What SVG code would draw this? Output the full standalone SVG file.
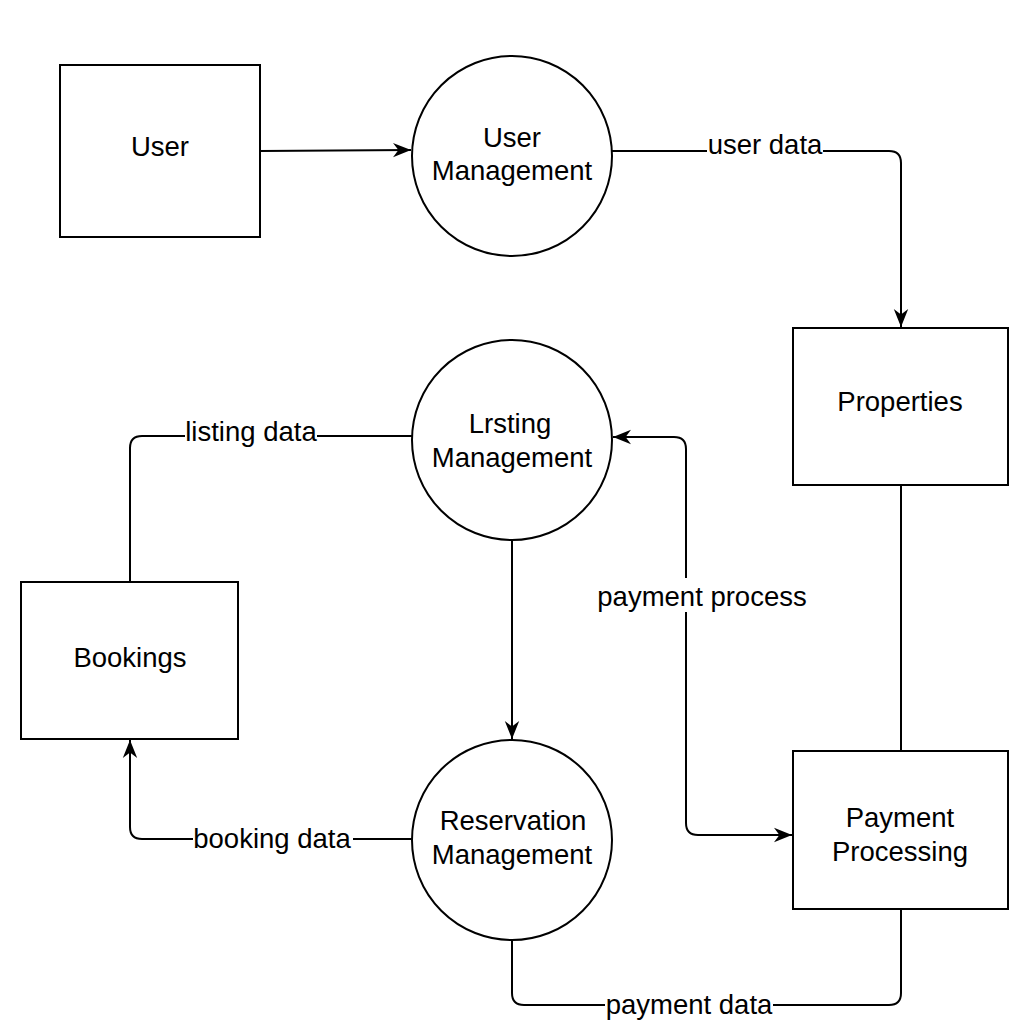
<svg xmlns="http://www.w3.org/2000/svg" width="1024" height="1024" viewBox="0 0 1024 1024">
<defs>
<style>
.n{fill:#fff;stroke:#000;stroke-width:2}
.t{font-family:"Liberation Sans",Arial,sans-serif;font-size:27.5px;fill:#000;text-anchor:middle}
.c{fill:none;stroke:#000;stroke-width:2}
.lb{fill:#fff}
</style>
<marker id="a2" viewBox="0 0 10 10" refX="10" refY="5" markerWidth="18" markerHeight="18" orient="auto-start-reverse" markerUnits="userSpaceOnUse">
<path d="M0,1 L10,5 L0,9 L3,5 z" fill="#000"/>
</marker>
</defs>
<rect width="1024" height="1024" fill="#fff"/>
<g id="connectors">
<path class="c" d="M260,151 L411,150" marker-end="url(#a2)"/>
<path class="c" d="M612,151 L889,151 Q901,151 901,163 L901,327" marker-end="url(#a2)"/>
<path class="c" d="M412,436 L142,436 Q130,436 130,448 L130,582"/>
<path class="c" d="M512,540 L512,739" marker-end="url(#a2)"/>
<path class="c" d="M613,437 L674,437 Q686,437 686,449 L686,823 Q686,835 698,835 L792,835" marker-start="url(#a2)" marker-end="url(#a2)"/>
<path class="c" d="M901,485 L901,751"/>
<path class="c" d="M412,839 L142,839 Q130,839 130,827 L130,740" marker-end="url(#a2)"/>
<path class="c" d="M512,940 L512,993 Q512,1005 524,1005 L889,1005 Q901,1005 901,993 L901,909"/>
<rect class="lb" x="707" y="128" width="116" height="34"/>
<text class="t" x="765" y="154">user data</text>
<rect class="lb" x="185" y="416" width="132" height="34"/>
<text class="t" x="251" y="441">listing data</text>
<rect class="lb" x="597" y="578" width="212" height="34"/>
<text class="t" x="702" y="606">payment process</text>
<rect class="lb" x="193" y="820" width="160" height="34"/>
<text class="t" x="272" y="848">booking data</text>
<rect class="lb" x="605" y="986" width="168" height="34"/>
<text class="t" x="689" y="1014">payment data</text>
</g>
<g id="user">
<rect class="n" x="60" y="65" width="200" height="172"/>
<text class="t" x="160" y="156">User</text>
</g>
<g id="user-management">
<circle class="n" cx="512" cy="156" r="100"/>
<text class="t" x="512" y="147">User</text>
<text class="t" x="512" y="180">Management</text>
</g>
<g id="properties">
<rect class="n" x="793" y="328" width="215" height="157"/>
<text class="t" x="900" y="411">Properties</text>
</g>
<g id="listing-management">
<circle class="n" cx="512" cy="440" r="100"/>
<text class="t" x="510" y="433">Lrsting</text>
<text class="t" x="512" y="467">Management</text>
</g>
<g id="bookings">
<rect class="n" x="21" y="582" width="217" height="157"/>
<text class="t" x="130" y="667">Bookings</text>
</g>
<g id="reservation-management">
<circle class="n" cx="512" cy="840" r="100"/>
<text class="t" x="513" y="830">Reservation</text>
<text class="t" x="512" y="864">Management</text>
</g>
<g id="payment-processing">
<rect class="n" x="793" y="751" width="215" height="158"/>
<text class="t" x="900" y="827">Payment</text>
<text class="t" x="900" y="861">Processing</text>
</g>
</svg>
